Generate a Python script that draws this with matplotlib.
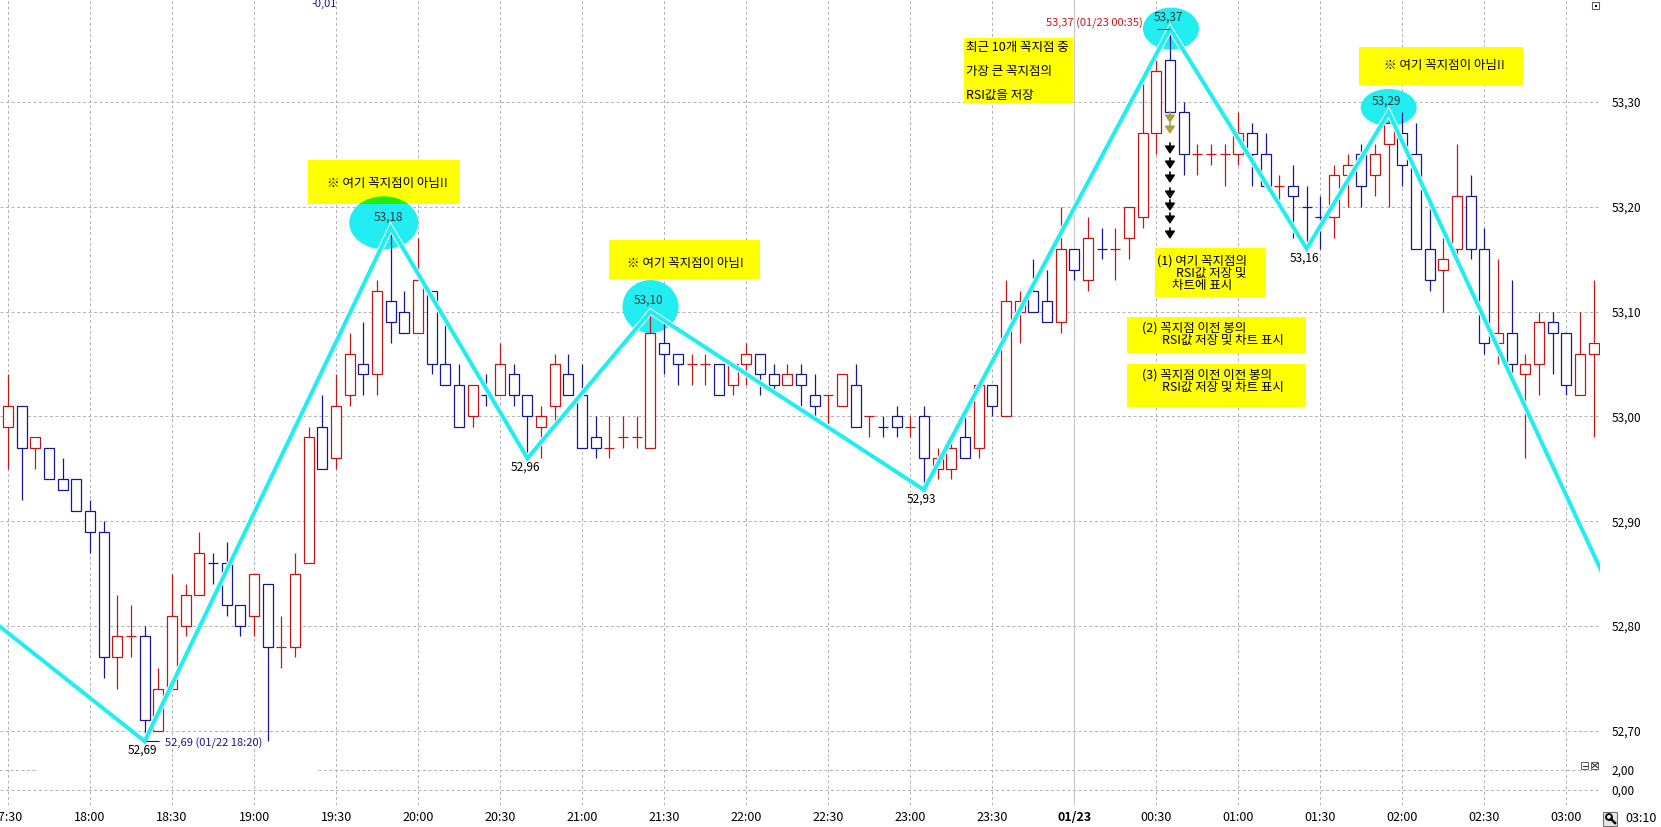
import matplotlib
matplotlib.use('Agg')
import matplotlib.pyplot as plt
from matplotlib.patches import Rectangle, Ellipse, Circle
from matplotlib.transforms import Affine2D
import matplotlib.patheffects as pe

plt.rcParams['font.family'] = ['Noto Sans CJK KR', 'DejaVu Sans']

# 5분봉 (17:30 ~ 03:10)
opens = [52.99, 53.01, 52.97, 52.97, 52.94, 52.94, 52.91, 52.89, 52.77, 52.79,
         52.79, 52.70, 52.74, 52.80, 52.83, 52.86, 52.86, 52.82, 52.81, 52.84,
         52.78, 52.78, 52.86, 52.99, 52.96, 53.02, 53.05, 53.04, 53.11, 53.10,
         53.08, 53.12, 53.05, 53.03, 53.00, 53.02, 53.02, 53.04, 53.02, 52.99,
         53.01, 53.04, 53.02, 52.98, 52.97, 52.98, 52.98, 52.97, 53.07, 53.06,
         53.05, 53.05, 53.05, 53.03, 53.05, 53.06, 53.04, 53.03, 53.04, 53.02,
         53.02, 53.01, 53.03, 53.00, 52.99, 53.00, 52.99, 53.00, 52.95, 52.95,
         52.98, 52.97, 53.03, 53.00, 53.10, 53.12, 53.11, 53.09, 53.16, 53.13,
         53.16, 53.16, 53.17, 53.19, 53.27, 53.34, 53.29, 53.25, 53.25, 53.25,
         53.25, 53.27, 53.25, 53.22, 53.22, 53.20, 53.19, 53.19, 53.23, 53.25,
         53.23, 53.26, 53.27, 53.25, 53.16, 53.14, 53.16, 53.21, 53.16, 53.07,
         53.08, 53.04, 53.05, 53.09, 53.08, 53.02, 53.06]
highs = [53.04, 53.01, 52.98, 52.97, 52.96, 52.94, 52.92, 52.90, 52.83, 52.82,
         52.80, 52.76, 52.85, 52.84, 52.89, 52.87, 52.88, 52.82, 52.85, 52.84,
         52.81, 52.87, 52.99, 53.02, 53.04, 53.08, 53.09, 53.13, 53.18, 53.12,
         53.17, 53.12, 53.09, 53.05, 53.03, 53.04, 53.07, 53.05, 53.02, 53.01,
         53.06, 53.06, 53.05, 53.00, 53.00, 53.00, 53.00, 53.10, 53.09, 53.06,
         53.06, 53.06, 53.05, 53.05, 53.07, 53.06, 53.05, 53.05, 53.05, 53.04,
         53.02, 53.04, 53.05, 53.00, 53.00, 53.01, 53.00, 53.01, 52.97, 52.98,
         53.00, 53.03, 53.03, 53.13, 53.12, 53.15, 53.14, 53.20, 53.16, 53.19,
         53.18, 53.18, 53.20, 53.32, 53.34, 53.37, 53.30, 53.26, 53.26, 53.26,
         53.29, 53.28, 53.27, 53.23, 53.24, 53.22, 53.21, 53.24, 53.25, 53.26,
         53.26, 53.29, 53.29, 53.28, 53.20, 53.17, 53.26, 53.23, 53.18, 53.15,
         53.13, 53.06, 53.10, 53.10, 53.08, 53.10, 53.13]
lows = [52.95, 52.92, 52.95, 52.94, 52.93, 52.91, 52.87, 52.75, 52.74, 52.77,
        52.69, 52.70, 52.74, 52.79, 52.83, 52.84, 52.81, 52.79, 52.79, 52.69,
        52.76, 52.77, 52.86, 52.95, 52.95, 53.01, 53.02, 53.02, 53.07, 53.08,
        53.08, 53.04, 53.03, 52.99, 52.99, 53.01, 53.02, 53.01, 52.96, 52.96,
        52.99, 53.02, 52.97, 52.96, 52.96, 52.97, 52.97, 52.97, 53.04, 53.03,
        53.03, 53.03, 53.02, 53.02, 53.03, 53.02, 53.02, 53.03, 53.01, 53.00,
        52.99, 53.01, 52.99, 52.98, 52.98, 52.98, 52.98, 52.93, 52.94, 52.94,
        52.96, 52.96, 53.00, 53.00, 53.07, 53.10, 53.09, 53.08, 53.13, 53.12,
        53.15, 53.13, 53.15, 53.18, 53.25, 53.29, 53.23, 53.23, 53.24, 53.22,
        53.24, 53.22, 53.22, 53.20, 53.17, 53.16, 53.16, 53.17, 53.20, 53.20,
        53.21, 53.20, 53.22, 53.16, 53.12, 53.10, 53.15, 53.15, 53.06, 53.05,
        53.03, 52.96, 53.02, 53.04, 53.02, 53.02, 52.98]
closes = [53.01, 52.97, 52.98, 52.94, 52.93, 52.91, 52.89, 52.77, 52.79, 52.79,
          52.71, 52.74, 52.81, 52.83, 52.87, 52.86, 52.82, 52.80, 52.85, 52.78,
          52.78, 52.85, 52.98, 52.95, 53.01, 53.06, 53.04, 53.12, 53.09, 53.08,
          53.13, 53.05, 53.03, 52.99, 53.03, 53.02, 53.05, 53.02, 53.00, 53.00,
          53.05, 53.02, 52.97, 52.97, 52.97, 52.98, 52.98, 53.08, 53.06, 53.05,
          53.05, 53.05, 53.02, 53.05, 53.06, 53.04, 53.03, 53.04, 53.03, 53.01,
          53.02, 53.04, 52.99, 53.00, 52.99, 52.99, 52.99, 52.96, 52.96, 52.97,
          52.96, 53.03, 53.01, 53.11, 53.11, 53.10, 53.09, 53.16, 53.14, 53.17,
          53.16, 53.16, 53.20, 53.27, 53.33, 53.29, 53.25, 53.25, 53.25, 53.25,
          53.27, 53.25, 53.22, 53.22, 53.21, 53.20, 53.19, 53.23, 53.24, 53.22,
          53.25, 53.28, 53.24, 53.16, 53.13, 53.15, 53.21, 53.16, 53.07, 53.08,
          53.05, 53.05, 53.09, 53.08, 53.03, 53.06, 53.07]

tick_labels = ['17:30', '18:00', '18:30', '19:00', '19:30', '20:00', '20:30',
               '21:00', '21:30', '22:00', '22:30', '23:00', '23:30', '01/23',
               '00:30', '01:00', '01:30', '02:00', '02:30', '03:00']
last_time = '03:10'
price_ticks = [52.70, 52.80, 52.90, 53.00, 53.10, 53.20, 53.30]
sub_ticks = [0.0, 2.0]
sub_top_label = -0.01

# 꼭지점 (봉 번호, 가격)
zz_idx = [-5, 10, 28, 38, 47, 67, 85, 95, 101, 117]
zz_val = [52.845, 52.69, 53.18, 52.96, 53.10, 52.93, 53.37, 53.16, 53.29, 52.84]

hi_text = '53,37 (01/23 00:35)'
lo_text = '52,69 (01/22 18:20)'

notes = [
    ((308, 160, 460, 204), [('※ 여기 꼭지점이 아님!!', 387, 184, 'center')]),
    ((609, 240, 760, 279), [('※ 여기 꼭지점이 아님!', 685, 264, 'center')]),
    ((1359, 47, 1523, 85), [('※ 여기 꼭지점이 아님!!', 1444, 65, 'center')]),
    ((964, 38, 1073, 103), [('최근 10개 꼭지점 중', 966, 48, 'left'),
                            ('가장 큰 꼭지점의', 966, 71, 'left'),
                            ('RSI값을 저장', 966, 95, 'left')]),
    ((1155, 248, 1265, 297), [('(1) 여기 꼭지점의', 1157, 261, 'left'),
                              ('RSI값 저장 및', 1176, 273, 'left'),
                              ('차트에 표시', 1172, 285, 'left')]),
    ((1127, 317, 1306, 353), [('(2) 꼭지점 이전 봉의', 1142, 328, 'left'),
                              ('RSI값 저장 및 차트 표시', 1162, 340, 'left')]),
    ((1127, 364, 1306, 407), [('(3) 꼭지점 이전 이전 봉의', 1142, 375, 'left'),
                              ('RSI값 저장 및 차트 표시', 1162, 387, 'left')]),
]

RED = '#c01818'
BLUE = '#18188e'
CYAN = '#22eef2'
GRID = '#b4b4b4'
W, H = 1661, 827
STEP = 13.67   # 봉 간격(px)
X0 = 8         # 첫 봉 위치(px)


def fmt(v):
    return f'{v:.2f}'.replace('.', ',')


fig = plt.figure(figsize=(W / 100, H / 100), dpi=100)
fig.patch.set_facecolor('white')
P = Affine2D().scale(0.01, -0.01).translate(0, H / 100) + fig.dpi_scale_trans


def box(x0, y0, x1, y1):
    return [x0 / W, 1 - y1 / H, (x1 - x0) / W, (y1 - y0) / H]


ax = fig.add_axes(box(0, 0, 1600, 757))
sub = fig.add_axes(box(0, 757, 1600, 805), sharex=ax)
ax.set_xlim(-X0 / STEP, (1600 - X0) / STEP)
ax.set_ylim(53.30 - (757 - 102) / 1048, 53.30 + 102 / 1048)
sub.set_ylim(-1.5, 3.3)

for a in (ax, sub):
    for s in a.spines.values():
        s.set_visible(False)
    a.set_facecolor('white')

grid_idx = list(range(0, 115, 6))
for a in (ax, sub):
    for g in grid_idx:
        if tick_labels[grid_idx.index(g)] == '01/23':
            a.axvline(g, color='#c8c8c8', lw=0.8, zorder=0.6)
        else:
            a.axvline(g, color=GRID, lw=0.72, ls=(0, (3, 2.5)), zorder=0.5)
for v in price_ticks:
    ax.axhline(v, color=GRID, lw=0.72, ls=(0, (3, 2.5)), zorder=0.5)
sub.axhline(0.0, color=GRID, lw=0.72, ls=(0, (3, 2.5)), zorder=0.5)
sub.hlines(2.0, -1, 2.2, color=GRID, lw=0.72, ls=(0, (3, 2.5)), zorder=0.5)
sub.hlines(2.0, 22.7, 120, color=GRID, lw=0.72, ls=(0, (3, 2.5)), zorder=0.5)

# 캔들
bw = 10 / STEP
for i, (o, h, l, c) in enumerate(zip(opens, highs, lows, closes)):
    if c > o:
        col = RED
    elif c < o:
        col = BLUE
    else:
        col = BLUE if i > 0 and c < closes[i - 1] else RED
    ax.vlines(i, l, h, color=col, lw=0.9, zorder=2)
    if c != o:
        ax.add_patch(Rectangle((i - bw / 2, min(o, c)), bw, abs(c - o),
                               facecolor='white', edgecolor=col, lw=0.9, zorder=2.1))
    else:
        ax.hlines(c, i - bw / 2, i + bw / 2, color=col, lw=0.9, zorder=2.1)

# 꼭지점 원
ell_px = [(69, 53, -7, 5), (56, 53, 0, 5), (56, 42, 1, 0), (56, 37, 0, 5)]
peaks = [k for k in range(1, len(zz_val) - 1)
         if zz_val[k] > zz_val[k - 1] and zz_val[k] > zz_val[k + 1]]
ells = []
for k, (ew, eh, dx, dy) in zip(peaks, ell_px):
    e = dict(xy=(zz_idx[k] + dx / STEP, zz_val[k] + dy / 1048),
             width=ew / STEP, height=eh / 1048)
    ax.add_patch(Ellipse(**e, facecolor=CYAN, edgecolor='none', zorder=1))
    ells.append(e)

# 지그재그
ax.plot(zz_idx, zz_val, color=CYAN, lw=2.9, zorder=3, solid_joinstyle='miter',
        path_effects=[pe.withStroke(linewidth=4.3, foreground='white')])

for k in range(1, len(zz_val) - 1):
    if k in peaks:
        ax.annotate(fmt(zz_val[k]), (zz_idx[k] - 0.15, zz_val[k]), xytext=(0, 11),
                    textcoords='offset pixels', ha='center', va='center',
                    fontsize=8.5, color='#303838', zorder=6)
    else:
        ax.annotate(fmt(zz_val[k]), (zz_idx[k] - 0.15, zz_val[k]), xytext=(0, -9),
                    textcoords='offset pixels', ha='center', va='center',
                    fontsize=8.5, color='black', zorder=6)

# 최고/최저 표시
hi_i = max(range(len(highs)), key=lambda j: highs[j])
lo_i = min(range(len(lows)), key=lambda j: lows[j])
ax.hlines(highs[hi_i], hi_i - 13 / STEP, hi_i, color='#404040', lw=0.8, zorder=6)
ax.annotate(hi_text, (hi_i, highs[hi_i]), xytext=(-27, 5), textcoords='offset pixels',
            ha='right', va='center', fontsize=8, color=RED, zorder=6)
ax.hlines(lows[lo_i], lo_i + 1 / STEP, lo_i + 14 / STEP, color='#202020', lw=0.8, zorder=6)
ax.annotate(lo_text, (lo_i, lows[lo_i]), xytext=(20, -2), textcoords='offset pixels',
            ha='left', va='center', fontsize=8, color=BLUE, zorder=6)

# 노란 설명 박스
for (x0, y0, x1, y1), lines in notes:
    r = Rectangle((x0, y1), x1 - x0, y0 - y1, transform=P, facecolor='#ffff00',
                  edgecolor='none', zorder=4)
    ax.add_patch(r)
    for e in ells:
        g = Ellipse(**e, facecolor='#22ee00', edgecolor='none', zorder=4.1)
        ax.add_patch(g)
        g.set_clip_path(r)
    for txt, tx, ty, ha in lines:
        ax.text(tx, ty, txt, transform=P, ha=ha, va='center', fontsize=9,
                color='black', zorder=5)

# 화살표
ax_x = X0 + hi_i * STEP
for n, y in enumerate([112, 123, 143, 158, 172, 188, 200, 213, 228]):
    col = '#a8a040' if n < 2 else 'black'
    ax.annotate('', xy=(ax_x, y + 11), xytext=(ax_x, y), xycoords=P, textcoords=P,
                arrowprops=dict(arrowstyle='-|>,head_width=0.3,head_length=0.45',
                                color=col, lw=1.2, shrinkA=0, shrinkB=0), zorder=5)

# 축 눈금
ax.yaxis.tick_right()
ax.set_yticks(price_ticks)
ax.set_yticklabels([fmt(v) for v in price_ticks])
ax.tick_params(axis='y', length=0, pad=8.5, labelsize=8.5)
ax.tick_params(axis='x', length=0, labelbottom=False)
sub.yaxis.tick_right()
sub.set_yticks(sub_ticks)
sub.set_yticklabels([fmt(v) for v in sub_ticks])
sub.tick_params(axis='y', length=0, pad=8.5, labelsize=8.5)
sub.set_xticks(grid_idx)
sub.set_xticklabels(tick_labels)
sub.tick_params(axis='x', length=0, pad=4.5, labelsize=9)
for t in sub.get_xticklabels():
    if t.get_text() == '01/23':
        t.set_fontweight('bold')

# 기타 표시
fig.text(324, 4, fmt(sub_top_label), transform=P, ha='center', va='center',
         fontsize=8, color=BLUE)
fig.text(1641, 818, last_time, transform=P, ha='center', va='center', fontsize=9)
fig.add_artist(Rectangle((1592, 9), 7, -7, transform=P, facecolor='white',
                         edgecolor='#606060', lw=0.8))
fig.add_artist(Rectangle((1594.5, 7), 2.5, -2.5, transform=P, facecolor='black',
                         edgecolor='none'))
for bx in (1581, 1591):
    fig.add_artist(Rectangle((bx, 769), 7, -7, transform=P, facecolor='white',
                             edgecolor='#606060', lw=0.7))
fig.add_artist(plt.Line2D([1582.5, 1586.5], [765.5, 765.5], transform=P,
                          color='#303030', lw=0.8))
fig.add_artist(plt.Line2D([1592.5, 1597.5], [763.5, 767.5], transform=P,
                          color='#303030', lw=0.8))
fig.add_artist(plt.Line2D([1592.5, 1597.5], [767.5, 763.5], transform=P,
                          color='#303030', lw=0.8))
fig.add_artist(Rectangle((1603, 826), 14, -14, transform=P, facecolor='#e8e8e8',
                         edgecolor='#707070', lw=0.8))
fig.add_artist(Circle((1609, 817), 3, transform=P, facecolor='none',
                      edgecolor='black', lw=1.3))
fig.add_artist(plt.Line2D([1611, 1615], [819, 823], transform=P,
                          color='black', lw=1.8))

fig.savefig('out.png', dpi=100, facecolor='white')
